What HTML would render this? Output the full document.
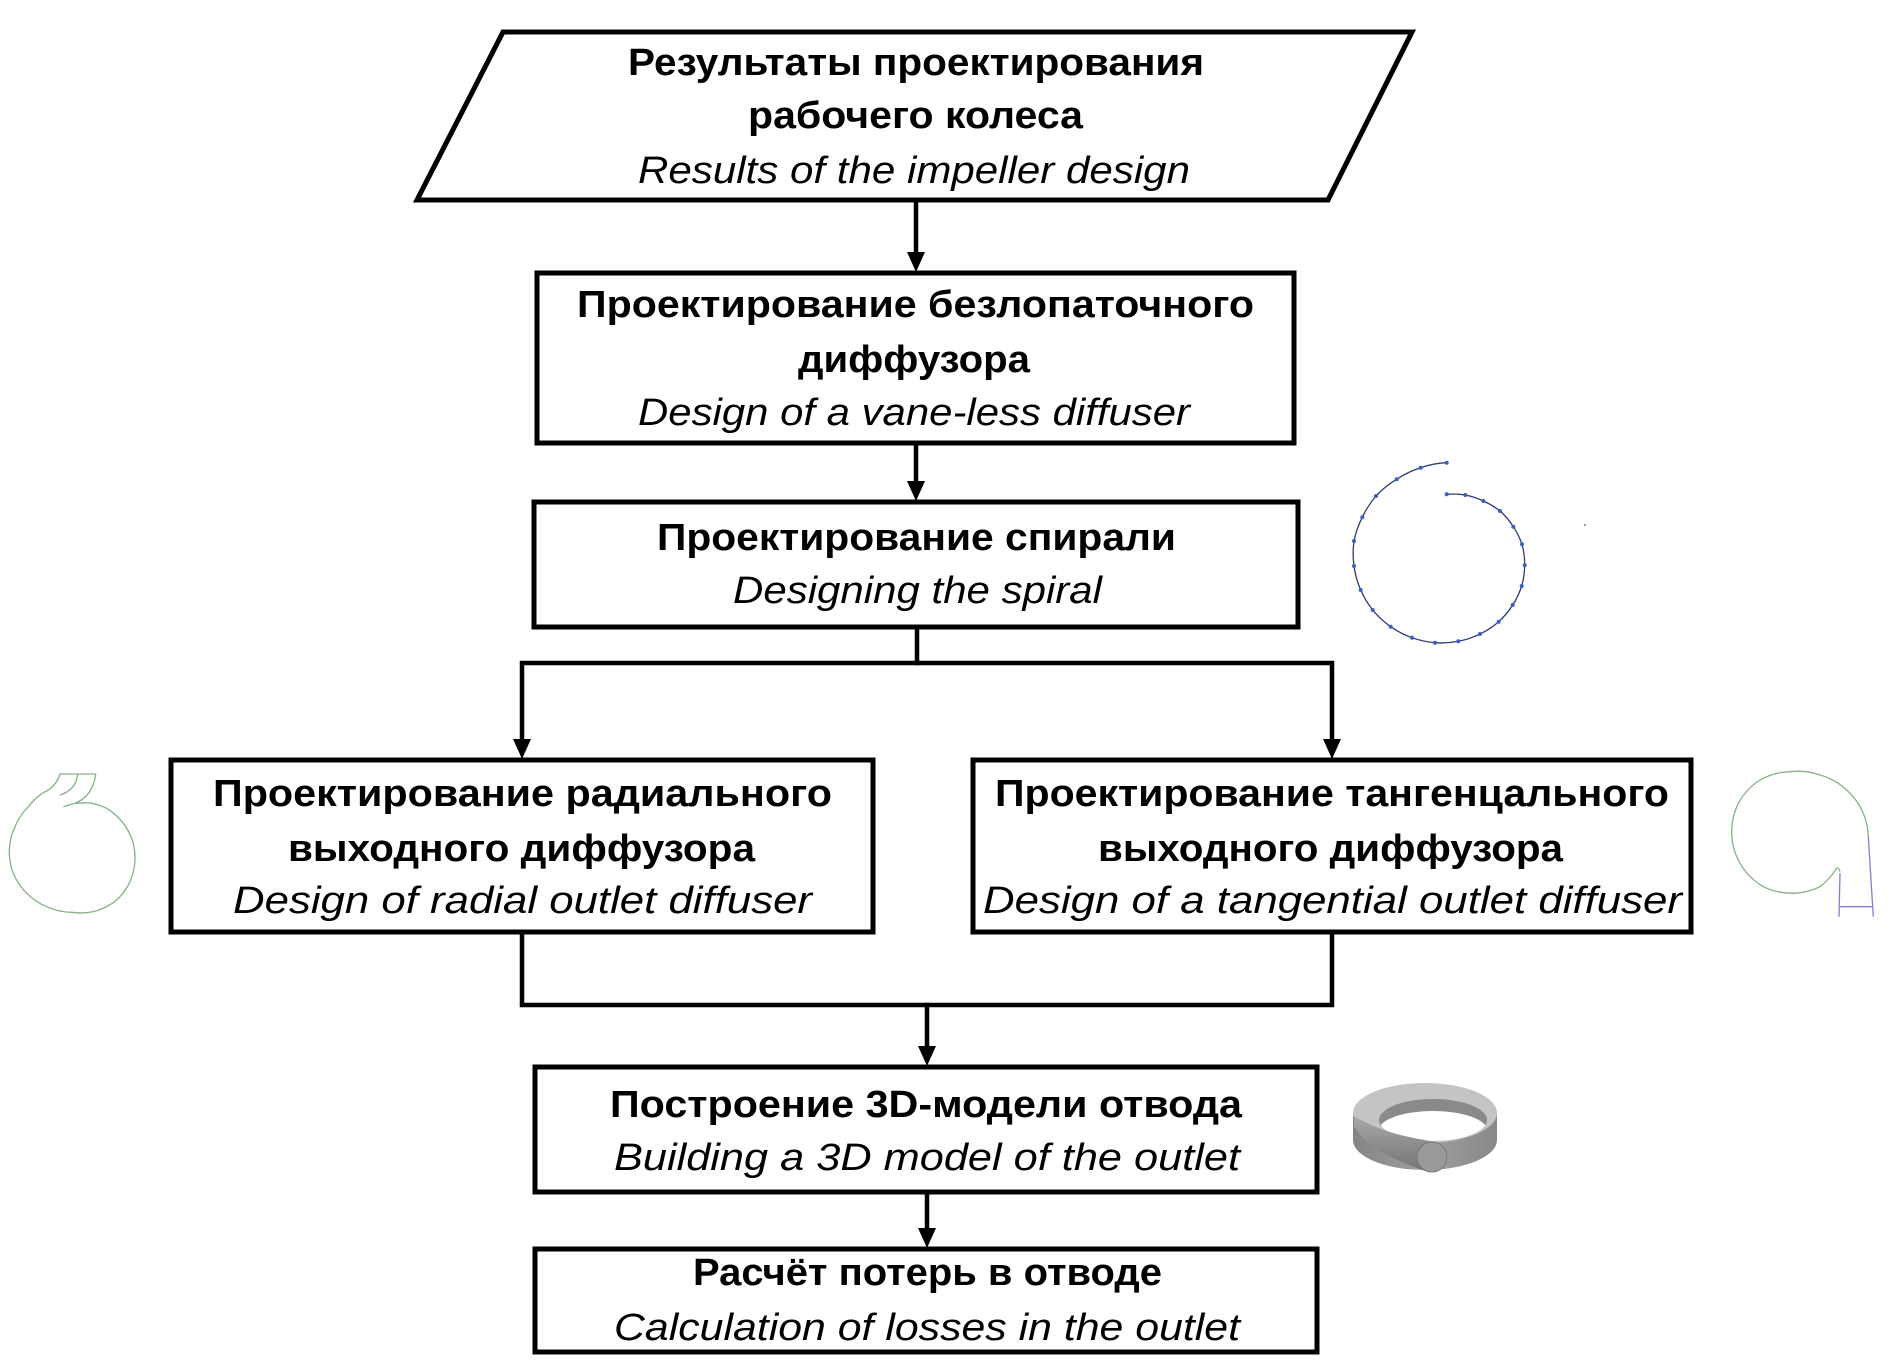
<!DOCTYPE html>
<html>
<head>
<meta charset="utf-8">
<style>
html,body{margin:0;padding:0;background:#fff;}
svg{display:block;}
.b{font-family:"Liberation Sans","DejaVu Sans",sans-serif;font-weight:bold;font-size:38px;fill:#000;}
.i{font-family:"Liberation Sans","DejaVu Sans",sans-serif;font-style:italic;font-size:38px;fill:#000;}
</style>
</head>
<body>
<svg width="1893" height="1365" viewBox="0 0 1893 1365" xmlns="http://www.w3.org/2000/svg">
<rect width="1893" height="1365" fill="#fff"/>

<!-- shapes -->
<g fill="#fff" stroke="#000" stroke-width="5" stroke-linejoin="miter">
  <polygon points="503,32 1412,32 1328,200 417,200"/>
  <rect x="537" y="273" width="757" height="170"/>
  <rect x="534" y="502" width="764" height="125"/>
  <rect x="171" y="760" width="702" height="172"/>
  <rect x="973" y="760" width="718" height="172"/>
  <rect x="535" y="1067" width="782" height="125"/>
  <rect x="535" y="1249" width="782" height="103"/>
</g>

<!-- connectors -->
<g stroke="#000" stroke-width="4.5" fill="none" stroke-linecap="square">
  <line x1="916" y1="200" x2="916" y2="255"/>
  <line x1="916" y1="443" x2="916" y2="484"/>
  <polyline points="917,627 917,663"/>
  <polyline points="522,742 522,663 1332,663 1332,742"/>
  <polyline points="522,932 522,1005 1332,1005 1332,932"/>
  <line x1="927" y1="1005" x2="927" y2="1049"/>
  <line x1="927" y1="1192" x2="927" y2="1231"/>
</g>
<g fill="#000">
  <polygon points="907,252 925,252 916,272"/>
  <polygon points="907,481 925,481 916,501"/>
  <polygon points="513,739 531,739 522,759"/>
  <polygon points="1323,739 1341,739 1332,759"/>
  <polygon points="918,1046 936,1046 927,1066"/>
  <polygon points="918,1228 936,1228 927,1248"/>
</g>

<!-- texts -->
<text class="b" x="628" y="75" textLength="576" lengthAdjust="spacingAndGlyphs">Результаты проектирования</text>
<text class="b" x="748" y="128" textLength="335" lengthAdjust="spacingAndGlyphs">рабочего колеса</text>
<text class="i" x="638" y="183" textLength="552" lengthAdjust="spacingAndGlyphs">Results of the impeller design</text>

<text class="b" x="577" y="317" textLength="677" lengthAdjust="spacingAndGlyphs">Проектирование безлопаточного</text>
<text class="b" x="798" y="372" textLength="232" lengthAdjust="spacingAndGlyphs">диффузора</text>
<text class="i" x="638" y="425" textLength="552" lengthAdjust="spacingAndGlyphs">Design of a vane-less diffuser</text>

<text class="b" x="657" y="550" textLength="519" lengthAdjust="spacingAndGlyphs">Проектирование спирали</text>
<text class="i" x="733" y="603" textLength="369" lengthAdjust="spacingAndGlyphs">Designing the spiral</text>

<text class="b" x="213" y="806" textLength="619" lengthAdjust="spacingAndGlyphs">Проектирование радиального</text>
<text class="b" x="288" y="861" textLength="467" lengthAdjust="spacingAndGlyphs">выходного диффузора</text>
<text class="i" x="233" y="913" textLength="579" lengthAdjust="spacingAndGlyphs">Design of radial outlet diffuser</text>

<text class="b" x="995" y="806" textLength="674" lengthAdjust="spacingAndGlyphs">Проектирование тангенцального</text>
<text class="b" x="1098" y="861" textLength="465" lengthAdjust="spacingAndGlyphs">выходного диффузора</text>
<text class="i" x="983" y="913" textLength="699" lengthAdjust="spacingAndGlyphs">Design of a tangential outlet diffuser</text>

<text class="b" x="610" y="1117" textLength="632" lengthAdjust="spacingAndGlyphs">Построение 3D-модели отвода</text>
<text class="i" x="614" y="1170" textLength="626" lengthAdjust="spacingAndGlyphs">Building a 3D model of the outlet</text>

<text class="b" x="693" y="1285" textLength="469" lengthAdjust="spacingAndGlyphs">Расчёт потерь в отводе</text>
<text class="i" x="614" y="1340" textLength="626" lengthAdjust="spacingAndGlyphs">Calculation of losses in the outlet</text>

<!-- spiral figure -->
<g>
  <path fill="none" stroke="#2d3a78" stroke-width="1.3"
    d="M1446.7,462.7 A90,90 0 0 0 1420.7,467.7 A90,90 0 0 0 1396.7,479.3 A90,90 0 0 0 1376,496 A90,90 0 0 0 1362.3,517.3 A90,90 0 0 0 1354,541 A90,90 0 0 0 1354,566 A90,90 0 0 0 1360.7,590 A90,90 0 0 0 1372.7,610 A90,90 0 0 0 1390.7,626.7 A90,90 0 0 0 1412,637.7 A90,90 0 0 0 1435,642.7 A85,85 0 0 0 1458.3,641.3 A85,85 0 0 0 1480,634 A85,85 0 0 0 1498.7,621.7 A80,80 0 0 0 1512.7,605 A80,80 0 0 0 1521.7,586 A78,78 0 0 0 1524.7,565.3 A75,75 0 0 0 1522,544.3 A75,75 0 0 0 1513.3,526.7 A72,72 0 0 0 1500,511 A72,72 0 0 0 1483.3,501 A72,72 0 0 0 1465.3,495 A72,72 0 0 0 1446.7,494.3"/>
  <g fill="#3a5fc0">
    <circle cx="1446.7" cy="462.7" r="2"/><circle cx="1420.7" cy="467.7" r="2"/><circle cx="1396.7" cy="479.3" r="2"/>
    <circle cx="1376" cy="496" r="2"/><circle cx="1362.3" cy="517.3" r="2"/><circle cx="1354" cy="541" r="2"/>
    <circle cx="1354" cy="566" r="2"/><circle cx="1360.7" cy="590" r="2"/><circle cx="1372.7" cy="610" r="2"/>
    <circle cx="1390.7" cy="626.7" r="2"/><circle cx="1412" cy="637.7" r="2"/><circle cx="1435" cy="642.7" r="2"/>
    <circle cx="1458.3" cy="641.3" r="2"/><circle cx="1480" cy="634" r="2"/><circle cx="1498.7" cy="621.7" r="2"/>
    <circle cx="1512.7" cy="605" r="2"/><circle cx="1521.7" cy="586" r="2"/><circle cx="1524.7" cy="565.3" r="2"/>
    <circle cx="1522" cy="544.3" r="2"/><circle cx="1513.3" cy="526.7" r="2"/><circle cx="1500" cy="511" r="2"/>
    <circle cx="1483.3" cy="501" r="2"/><circle cx="1465.3" cy="495" r="2"/><circle cx="1446.7" cy="494.3" r="2"/>
  </g>
  <circle cx="1585" cy="525" r="0.9" fill="#555"/>
</g>

<!-- radial outlet figure -->
<g fill="none" stroke="#86b286" stroke-width="1.3" stroke-linejoin="round">
  <path d="M87.3,802.7 A62,62 0 0 1 106.7,808.3 A62,62 0 0 1 123.3,823.3 A62,62 0 0 1 133.3,843.3 A62,62 0 0 1 135,860 A62,62 0 0 1 130,881.7 A62,62 0 0 1 116.7,900 A62,62 0 0 1 96.7,910.7 A62,62 0 0 1 71.7,912.3 A62,62 0 0 1 46.7,906.7 A62,62 0 0 1 26.7,893.3 A62,62 0 0 1 13.3,873.3 A62,62 0 0 1 9.3,850 A62,62 0 0 1 15,826.7 A62,62 0 0 1 28.3,806.7 A62,62 0 0 1 43.3,792.7 Q56,787 60,774 L95.7,774 Q93,796 75,803.3 L63.3,806.7"/>
  <path d="M75,803.3 L87.3,802.7"/>
  <path d="M77.7,774 Q76,790 60,795"/>
</g>

<!-- tangential outlet figure -->
<g fill="none" stroke-width="1.3" stroke-linejoin="round">
  <path stroke="#86b286" d="M1840,871.7 Q1837.5,865 1835,870.7 A65,65 0 0 1 1820,886.7 A65,65 0 0 1 1793.3,893.3 A65,65 0 0 1 1763.3,886.7 A65,65 0 0 1 1740,863.3 A65,65 0 0 1 1731.7,833.3 A65,65 0 0 1 1738.3,803.3 A65,65 0 0 1 1760,780 A65,65 0 0 1 1790,771.7 A65,65 0 0 1 1820,775 A65,65 0 0 1 1846.7,790 A65,65 0 0 1 1863.3,813.3 A65,65 0 0 1 1868.3,836.7"/>
  <g stroke="#8080d0">
    <line x1="1868.3" y1="836.7" x2="1873.3" y2="916.7"/>
    <line x1="1840" y1="873.3" x2="1839" y2="916.7"/>
    <line x1="1839" y1="906.7" x2="1873" y2="906.7"/>
  </g>
</g>

<!-- 3D ring figure -->
<defs>
  <linearGradient id="wall" x1="0" y1="0" x2="1" y2="0">
    <stop offset="0" stop-color="#848484"/>
    <stop offset="0.5" stop-color="#a0a0a0"/>
    <stop offset="1" stop-color="#888888"/>
  </linearGradient>
  <linearGradient id="cyl" x1="0" y1="0" x2="0" y2="1">
    <stop offset="0" stop-color="#a8a8a8"/>
    <stop offset="1" stop-color="#747474"/>
  </linearGradient>
  <clipPath id="hole"><ellipse cx="1433" cy="1120" rx="54" ry="21"/></clipPath>
</defs>
<g>
  <path d="M1353,1113 L1353,1140 A72,30 0 0,0 1497,1140 L1497,1113 Z" fill="url(#wall)"/>
  <ellipse cx="1425" cy="1113" rx="72" ry="30" fill="#c4c4c4"/>
  <ellipse cx="1433" cy="1120" rx="54" ry="21" fill="#8a8a8a"/>
  <ellipse cx="1433" cy="1130" rx="54" ry="19" fill="#fff" clip-path="url(#hole)"/>
  <path d="M1354,1126 C1368,1150 1400,1162 1428,1172 L1436,1142 C1410,1138 1380,1132 1354,1116 Z" fill="url(#cyl)"/>
  <circle cx="1432" cy="1157" r="15" fill="#999" stroke="#7a7a7a" stroke-width="1"/>
</g>
</svg>
</body>
</html>
